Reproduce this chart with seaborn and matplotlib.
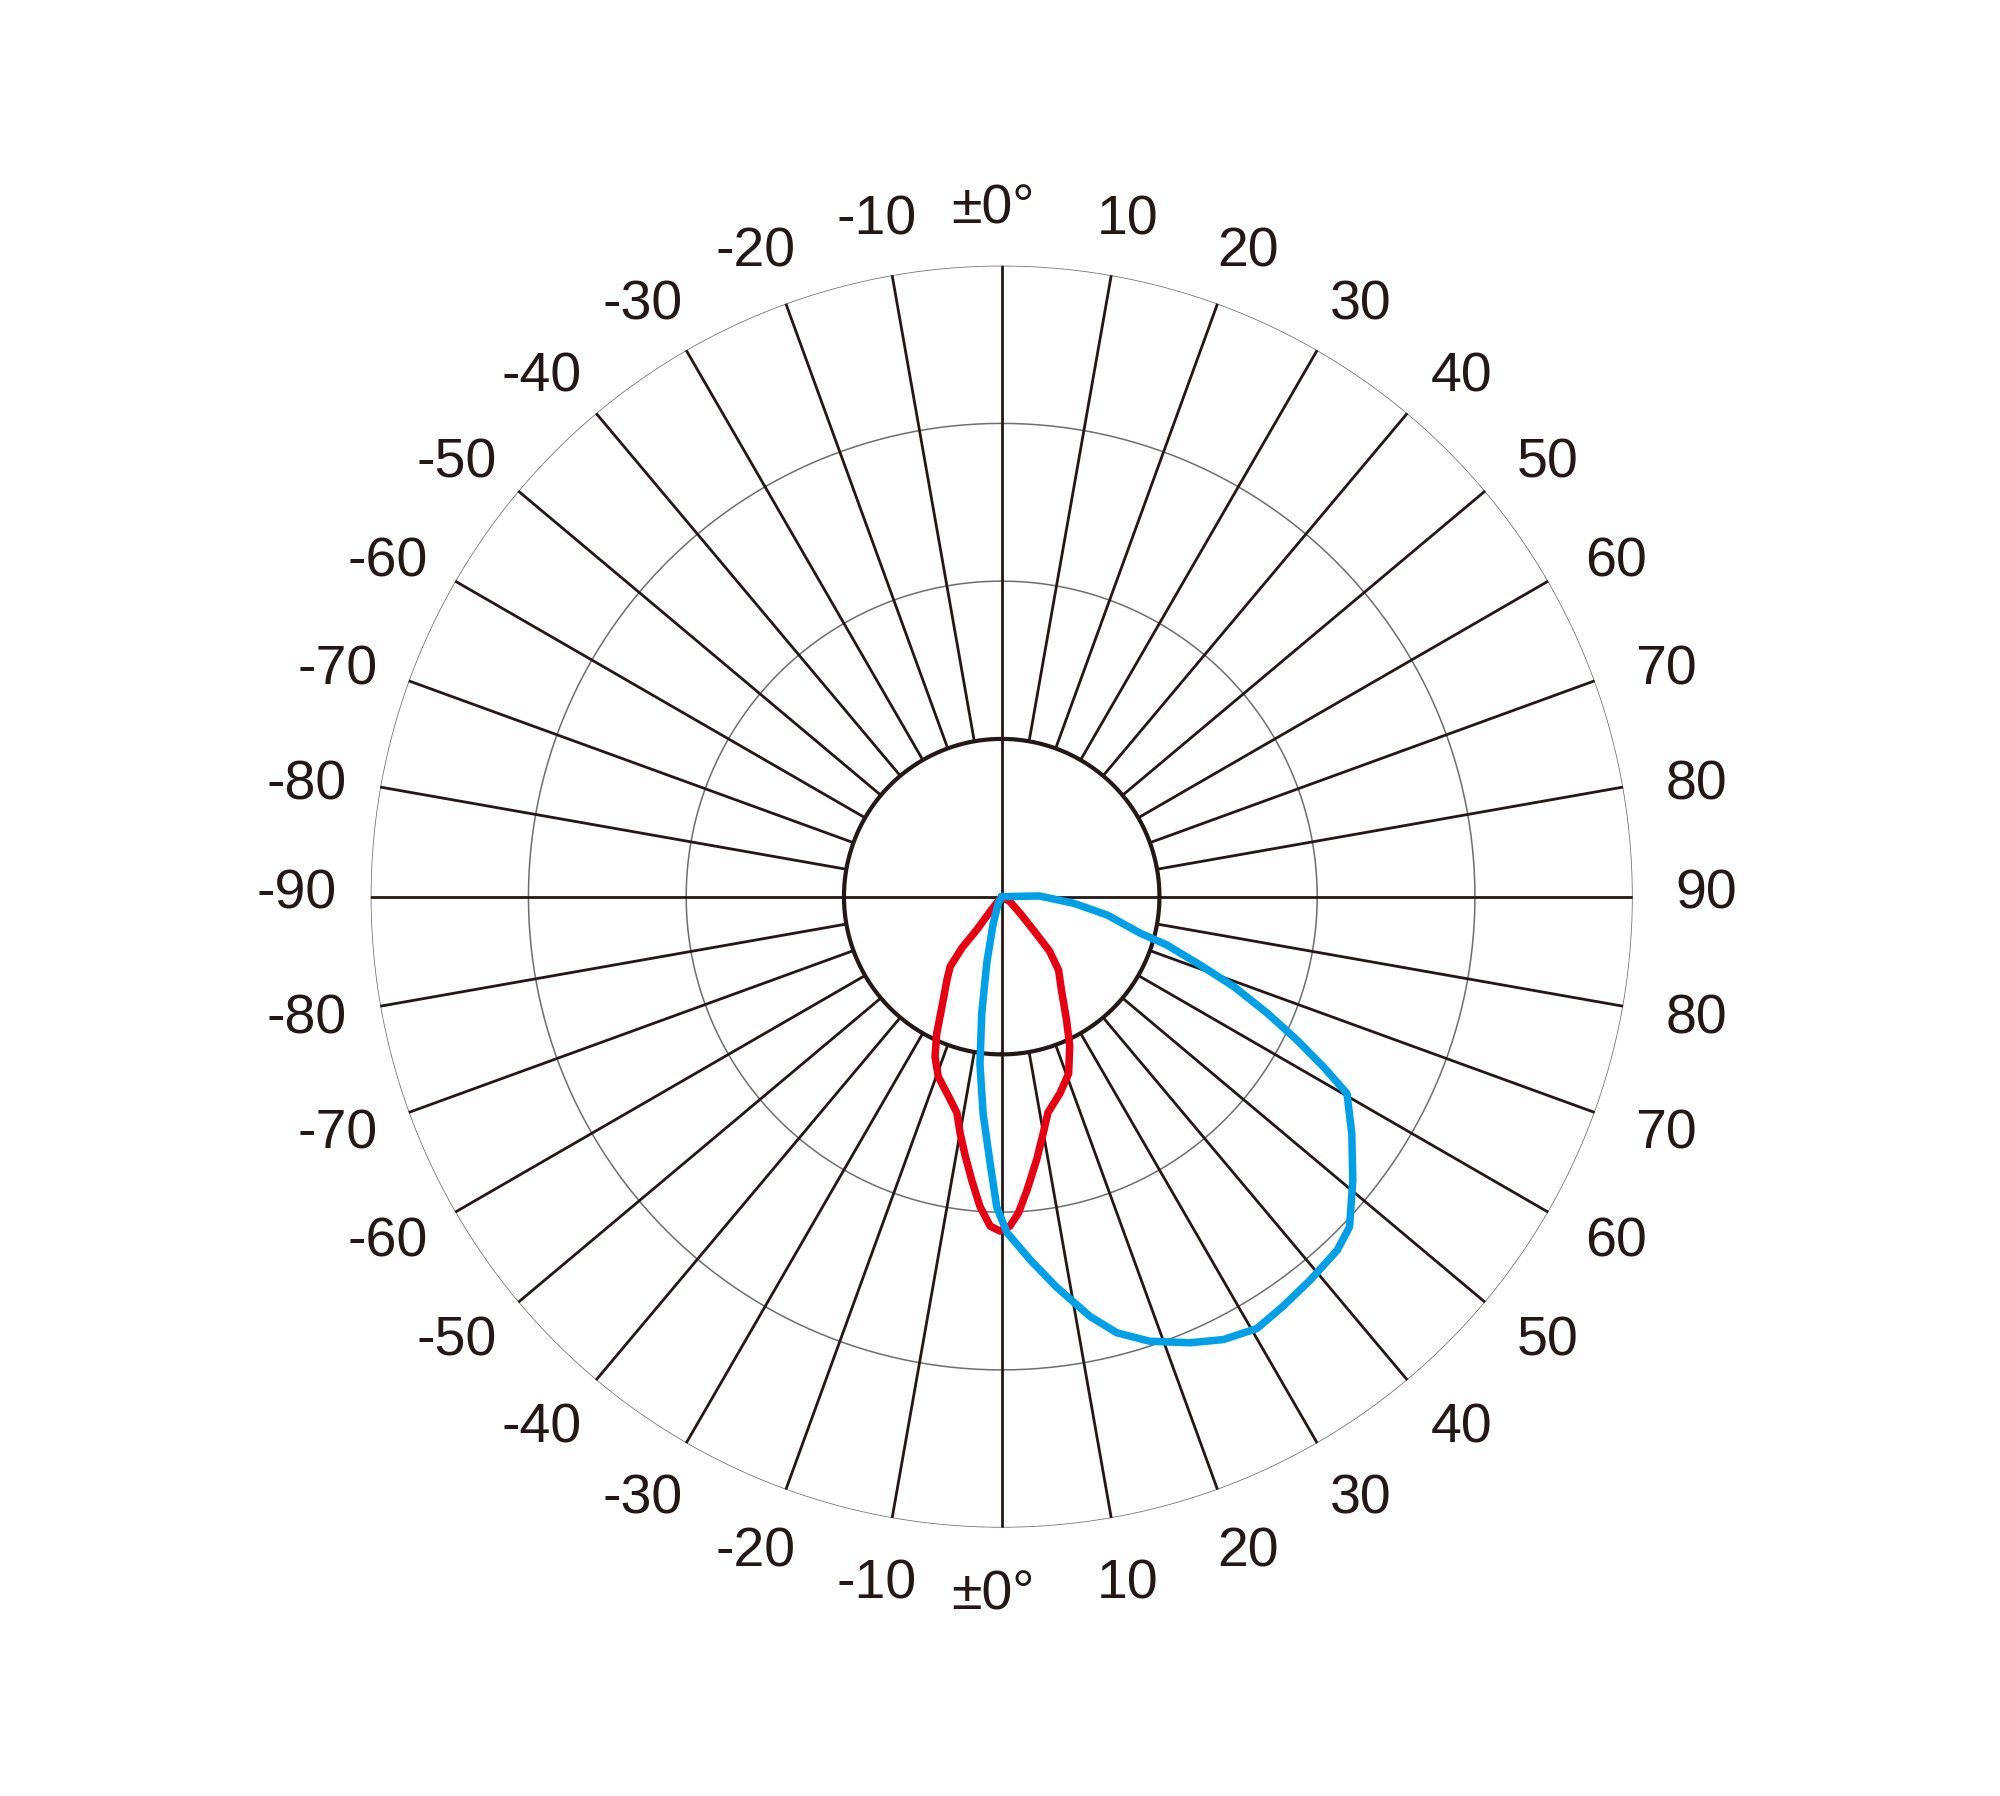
import numpy as np
import matplotlib
matplotlib.use("Agg")
import matplotlib.pyplot as plt
import seaborn as sns

# Polar light distribution, gamma in degrees measured from nadir (positive = right side)
red_gamma = [-90, -38, -36.9, -37.8, -36.4, -33.4, -28.6, -25.4, -22.6, -19.4, -14.9,
             -11.7, -10, -8, -6, -4, -2, -0.3, 1.4, 3, 4.9, 7.6, 10, 12.1, 16.5,
             20.7, 24.5, 27.8, 32.7, 37.7, 41.3, 43.5, 47.8, 59, 90]
red_value = [0, 12, 26, 41, 55, 63, 79, 96, 110, 121, 131,
             140, 152, 166, 181, 197, 209, 212, 209, 201, 187, 168, 152, 140, 130,
             120, 104, 88, 70, 59, 46, 29, 16, 6, 0]

blue_gamma = [90, 91, 84.7, 80.1, 75.2, 73.7, 71, 68.8, 66.3, 64.1, 62.1, 60.3,
              55.9, 51.1, 46.5, 43.5, 38.8, 34.5, 30.6, 26.6, 22.9, 18.4, 14.8,
              11.9, 8, 4.5, 0.9, -0.9, -2.5, -4.9, -7.4, -9.7, -12.7, -17.5, -27, -90]
blue_value = [0, 24, 46, 68, 91, 109, 133, 158, 184, 208, 231, 252,
              268, 286, 304, 309, 312, 315, 318, 314, 307, 297, 286,
              272, 250, 231, 213, 197, 169, 138, 107, 75, 43, 18, 5, 0]

ring_values = [200, 300, 400]
hub_value = 100
ray_angles = list(range(0, 360, 10))

label_gamma = list(range(-170, 190, 10))
label_text = []
for g in label_gamma:
    a = abs(g)
    v = a if a <= 90 else 180 - a
    if v == 0:
        label_text.append("\u00b10\u00b0")
    elif g < 0:
        label_text.append(f"-{v}")
    else:
        label_text.append(f"{v}")

sns.set_style("white")
plt.rcParams["font.family"] = ["Liberation Sans", "DejaVu Sans"]

ink = "#231815"
fig = plt.figure(figsize=(10, 8.98), dpi=200)
ax = fig.add_axes([0.18535, 0.14942, 0.631, 0.70267], projection="polar")
ax.set_theta_zero_location("S")
ax.set_theta_direction(1)
ax.set_ylim(0, 400)
ax.set_axis_off()

full = np.linspace(0, 2 * np.pi, 721)
for rv in ring_values:
    ax.plot(full, np.full_like(full, rv), color="#6e6e6e", lw=0.55, zorder=1)
ax.plot(full, np.full_like(full, hub_value), color=ink, lw=1.5, zorder=3)

for a in ray_angles:
    t = np.radians(a)
    r0 = 0 if a % 90 == 0 else hub_value
    ax.plot([t, t], [r0, 400], color=ink, lw=1.0, zorder=2)

sns.lineplot(x=np.radians(red_gamma), y=red_value, sort=False, estimator=None,
             color="#e60012", lw=2.7, ax=ax, zorder=5)
sns.lineplot(x=np.radians(blue_gamma), y=blue_value, sort=False, estimator=None,
             color="#00a0e9", lw=2.7, ax=ax, zorder=6)

# angle labels around the outer ring
fs = 20
for g, s in zip(label_gamma, label_text):
    g2 = g + 1.2 * np.sin(np.radians(2 * g))
    r = 439.6 + 7.3 * np.sin(np.radians(g)) ** 2
    dx = -3.1 if s.startswith("\u00b1") else 0
    dy = 2.8 if abs(g) == 90 else 0
    ax.annotate(s, xy=(np.radians(g2), r), xytext=(dx, dy - 0.358 * fs),
                textcoords="offset points", ha="center", va="baseline",
                fontsize=fs, color=ink, annotation_clip=False)

fig.savefig("out.png", dpi=200, facecolor="white")
